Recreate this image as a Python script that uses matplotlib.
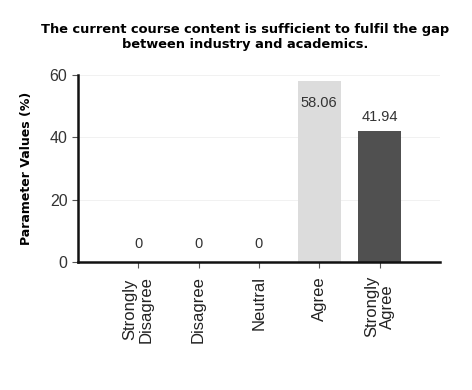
import matplotlib
matplotlib.use("Agg")
import matplotlib.pyplot as plt

categories = ["Strongly\nDisagree", "Disagree", "Neutral", "Agree", "Strongly\nAgree"]
values = [0, 0, 0, 58.06, 41.94]
value_labels = ["0", "0", "0", "58.06", "41.94"]
yticks = [0, 20, 40, 60]

colors = ["#cccccc", "#cccccc", "#cccccc", "#dcdcdc", "#505050"]
label_offsets = [13, 13, 13, -16, 10]

fig = plt.figure(figsize=(4.72, 3.90), dpi=100)
fig.patch.set_facecolor("white")
ax = fig.add_axes([0.165, 0.328, 0.767, 0.48])

x = list(range(len(categories)))
ax.bar(x, values, width=0.72, color=colors, zorder=2)
for xi, v, lab, off in zip(x, values, value_labels, label_offsets):
    ax.annotate(lab, (xi, v), xytext=(0, off), textcoords="offset points",
                ha="center", va="center", fontsize=10.5, color="#333333",
                family="Liberation Sans", zorder=3)

ax.set_xlim(-1, 5)
ax.set_ylim(0, 60)
ax.set_yticks(yticks)
ax.set_yticklabels([str(t) for t in yticks], fontsize=11.5, family="Liberation Sans", color="#333333")
ax.set_xticks(x)
ax.set_xticklabels(categories, rotation=90, fontsize=12, family="Liberation Sans",
                   color="#222222", linespacing=1.1)
ax.yaxis.grid(True, color="#efefef", linewidth=0.6, zorder=0)
for s in ["top", "right"]:
    ax.spines[s].set_visible(False)
for s in ["left", "bottom"]:
    ax.spines[s].set_linewidth(1.8)
    ax.spines[s].set_color("#111111")
ax.tick_params(axis="both", length=4, width=0.8, color="#555555")
ax.tick_params(axis="x", pad=6)

ax.set_ylabel("Parameter Values (%)", fontsize=9, fontweight="bold", labelpad=12)
fig.text(0.52, 0.905, "The current course content is sufficient to fulfil the gap\nbetween industry and academics.",
         ha="center", va="center", fontsize=9.4, fontweight="bold", linespacing=1.15)

fig.savefig("out.png", dpi=100, facecolor="white")
